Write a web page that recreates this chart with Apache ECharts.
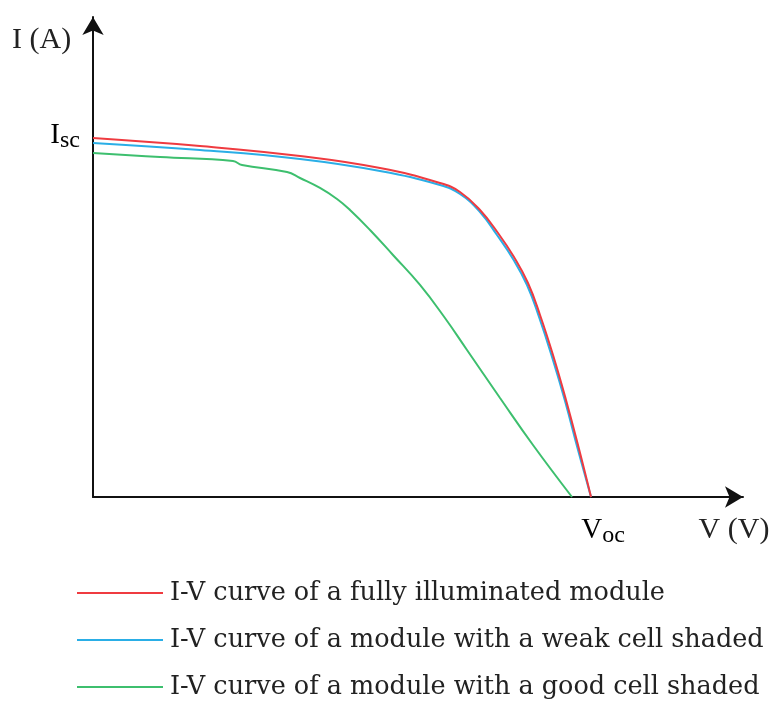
<!DOCTYPE html>
<html>
<head>
<meta charset="utf-8">
<script src="https://cdn.jsdelivr.net/npm/echarts@6/dist/echarts.min.js"></script>
<style>html,body{margin:0;padding:0;background:#fff}#c{width:771px;height:703px}</style>
</head>
<body>
<div id="c"></div>
<script>
// Abstract units: V and I on 0..100 scales
var seriesNames = [
  'I-V curve of a fully illuminated module',
  'I-V curve of a module with a weak cell shaded',
  'I-V curve of a module with a good cell shaded'
];
var fullV = [0, 16.46, 31.85, 44.15, 53.38, 56.46, 59.54, 62.31, 64.77, 66.92, 68.77, 70.77, 72.77, 74.77, 76.62];
var fullI = [74.79, 73.13, 71.04, 68.54, 65.42, 63.54, 59.79, 55.0, 50.0, 44.58, 37.92, 29.58, 20.21, 10.0, 0];
var weakV = [0, 16.46, 31.85, 44.15, 53.38, 56.46, 59.54, 62.15, 64.62, 66.77, 68.62, 70.62, 72.62, 74.62, 76.62];
var weakI = [73.75, 72.29, 70.42, 67.92, 65.0, 63.13, 59.38, 54.58, 49.58, 44.17, 37.5, 29.17, 20.0, 9.79, 0];
var goodV = [0, 10.31, 21.54, 22.92, 29.85, 31.85, 34.92, 37.54, 39.54, 42.62, 46.15, 50.31, 54.15, 57.54, 62.62, 67.69, 73.69];
var goodI = [71.67, 70.83, 70.0, 69.17, 67.71, 66.46, 64.38, 62.08, 59.79, 55.63, 50.42, 44.17, 37.29, 30.63, 20.63, 10.83, 0];
var ISC = 74.79;
var VOC = 76.62;
var colors = ['#ef3b40', '#2aaee6', '#3dbf6e'];

function pairs(xs, ys) { return xs.map(function (x, i) { return [x, ys[i]]; }); }

var FONT = '"Liberation Serif", "Times New Roman", serif';
var LFONT = '"DejaVu Serif", serif';
var chart = echarts.init(document.getElementById('c'), null, {renderer: 'canvas'});
var axisCommon = {
  type: 'value', min: 0, max: 100,
  splitLine: {show: false}, axisTick: {show: false}, axisLabel: {show: false},
  axisLine: {show: true, symbol: ['none', 'arrow'], symbolSize: [16, 18],
    lineStyle: {color: '#111', width: 2}}
};
chart.setOption({
  animation: false,
  grid: {left: 93, top: 17, width: 650, height: 480},
  xAxis: axisCommon,
  yAxis: axisCommon,
  legend: {
    orient: 'vertical', left: 77, top: 580, padding: 0,
    itemWidth: 86, itemHeight: 2, itemGap: 21, icon: 'rect',
    data: seriesNames,
    textStyle: {fontFamily: LFONT, fontSize: 25.5, color: '#222', padding: [0, 0, 0, 2]}
  },
  series: [
    {name: seriesNames[2], type: 'line', data: pairs(goodV, goodI), color: colors[2]},
    {name: seriesNames[1], type: 'line', data: pairs(weakV, weakI), color: colors[1]},
    {name: seriesNames[0], type: 'line', data: pairs(fullV, fullI), color: colors[0]}
  ].map(function (s) {
    s.showSymbol = false; s.symbol = 'none'; s.smooth = 0.45;
    s.lineStyle = {width: 2, color: s.color};
    s.itemStyle = {color: s.color};
    return s;
  })
});

var pIsc = chart.convertToPixel({gridIndex: 0}, [0, ISC]);
var pVoc = chart.convertToPixel({gridIndex: 0}, [VOC, 0]);
var rich = {
  m: {fontFamily: FONT, fontSize: 29, color: '#222'},
  s: {fontFamily: FONT, fontSize: 24, color: '#222', padding: [12, 0, 0, 0]}
};
chart.setOption({
  graphic: [
    {type: 'text', left: 12, top: 25, style: {text: 'I (A)', font: '30px ' + FONT, fill: '#222'}},
    {type: 'text', x: pIsc[0] - 13, y: pIsc[1] - 3, style: {text: '{m|I}{s|sc}', rich: rich, align: 'right', verticalAlign: 'middle'}},
    {type: 'text', x: pVoc[0] + 12, y: pVoc[1] + 33, style: {text: '{m|V}{s|oc}', rich: rich, align: 'center', verticalAlign: 'middle'}},
    {type: 'text', x: 734, y: 530, style: {text: 'V (V)', font: '30px ' + FONT, fill: '#222', align: 'center', verticalAlign: 'middle'}}
  ]
});
</script>
</body>
</html>
